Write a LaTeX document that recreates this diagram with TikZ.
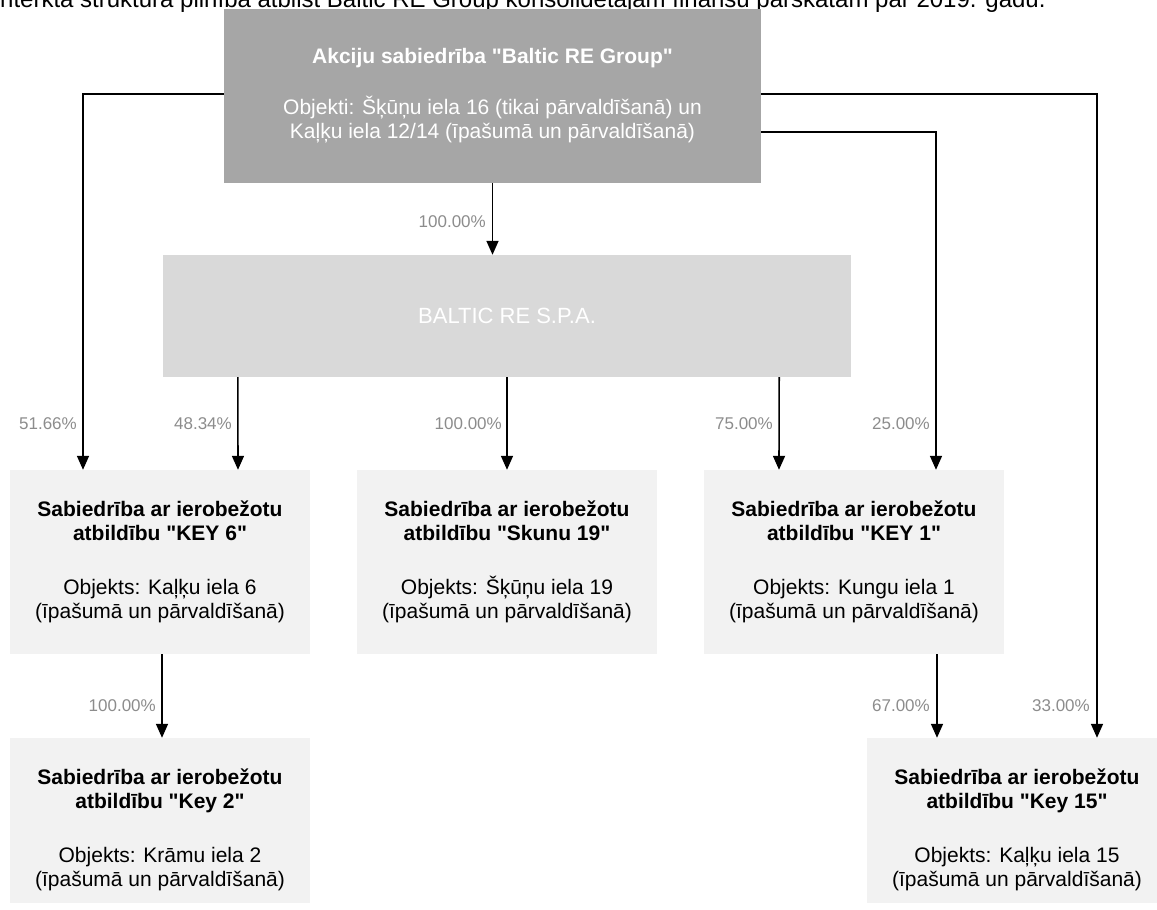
\documentclass[tikz,border=0pt]{standalone}
\usepackage{fontspec}
\setmainfont{Liberation Sans}[Ligatures=TeXOff]
\usetikzlibrary{arrows.meta,calc}
\definecolor{topfill}{HTML}{A6A6A6}
\definecolor{midfill}{HTML}{D9D9D9}
\definecolor{lowfill}{HTML}{F2F2F2}
\definecolor{pctgray}{HTML}{8C8C8C}
\begin{document}
\begin{tikzpicture}[x=1pt,y=-1pt,
  lowbox/.style={rectangle, inner sep=0pt, minimum width=300pt, minimum height=184pt,
    fill=lowfill, align=center, text=black, font=\fontsize{21}{24.5}\selectfont},
  arr/.style={line width=1.6pt, draw=black, -{Triangle[width=12pt,length=14pt]}},
  pct/.style={anchor=base east, text=pctgray, font=\fontsize{17}{20}\selectfont, inner sep=0pt}]
\useasboundingbox (0,0) rectangle (1157,910);
\clip (0,0) rectangle (1157,902);

\node[anchor=base west, inner sep=0pt, font=\fontsize{24}{28}\selectfont] (hdr) at (0,7)
  {nterkta struktūra pilnībā atbilst Baltic RE Group konsolidētajam finanšu pārskatam par 2019. gadu.};

\node[rectangle, inner sep=0pt, minimum width=537pt, minimum height=174pt, fill=topfill,
  align=center, text=white, font=\fontsize{21}{24}\selectfont] (top) at (492.5,96)
  {\textbf{Akciju sabiedrība "Baltic RE Group"}\\[27pt]
   Objekti: Šķūņu iela 16 (tikai pārvaldīšanā) un\\
   Kaļķu iela 12/14 (īpašumā un pārvaldīšanā)};

\node[rectangle, inner sep=0pt, minimum width=688pt, minimum height=122pt, fill=midfill,
  text=white, font=\fontsize{22}{25}\selectfont] (baltic) at (507,316) {BALTIC RE S.P.A.};

\node[lowbox] (key6) at (160,562)
  {\textbf{Sabiedrība ar ierobežotu}\\\textbf{atbildību "KEY 6"}\\[29pt]
   Objekts: Kaļķu iela 6\\(īpašumā un pārvaldīšanā)};
\node[lowbox] (skunu) at (507,562)
  {\textbf{Sabiedrība ar ierobežotu}\\\textbf{atbildību "Skunu 19"}\\[29pt]
   Objekts: Šķūņu iela 19\\(īpašumā un pārvaldīšanā)};
\node[lowbox] (key1) at (854,562)
  {\textbf{Sabiedrība ar ierobežotu}\\\textbf{atbildību "KEY 1"}\\[29pt]
   Objekts: Kungu iela 1\\(īpašumā un pārvaldīšanā)};
\node[lowbox] (key2) at (160,830)
  {\textbf{Sabiedrība ar ierobežotu}\\\textbf{atbildību "Key 2"}\\[29pt]
   Objekts: Krāmu iela 2\\(īpašumā un pārvaldīšanā)};
\node[lowbox] (key15) at (1017,830)
  {\textbf{Sabiedrība ar ierobežotu}\\\textbf{atbildību "Key 15"}\\[29pt]
   Objekts: Kaļķu iela 15\\(īpašumā un pārvaldīšanā)};

% connectors
\draw[arr] (top.south) -- (top.south |- baltic.north);
\draw[arr] ([yshift=2pt]top.west) -| ([xshift=-77pt]key6.north);
\draw[arr] ([xshift=75pt]baltic.south west) -- ([xshift=78pt]key6.north);
\draw[arr] (baltic.south) -- (skunu.north);
\draw[arr] ([xshift=-72pt]baltic.south east) -- ([xshift=-75pt]key1.north);
\draw[arr] ([yshift=-36pt]top.east) -| ([xshift=82pt]key1.north);
\draw[arr] ([yshift=2pt]top.east) -| ([xshift=80pt]key15.north);
\draw[arr] ([xshift=2pt]key6.south) -- ([xshift=2pt]key2.north);
\draw[arr] ([xshift=83pt]key1.south) -- ([xshift=-80pt]key15.north);

% labels
\node[pct] (p0) at (486,227) {100.00\%};
\node[pct] (p1) at (77,429) {51.66\%};
\node[pct] (p2) at (232,429) {48.34\%};
\node[pct] (p3) at (502,429) {100.00\%};
\node[pct] (p4) at (773,429) {75.00\%};
\node[pct] (p5) at (930,429) {25.00\%};
\node[pct] (p6) at (156,711) {100.00\%};
\node[pct] (p7) at (930,711) {67.00\%};
\node[pct] (p8) at (1090,711) {33.00\%};
\end{tikzpicture}
\end{document}
